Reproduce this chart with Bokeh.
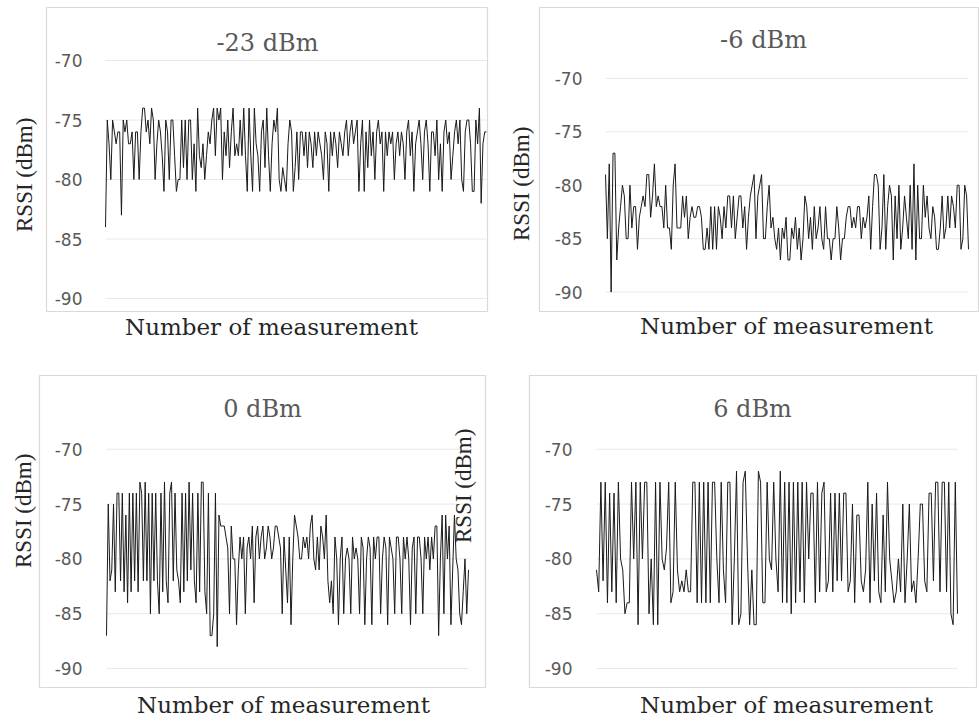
from bokeh.plotting import figure
from bokeh.models import Range1d, FixedTicker, ColumnDataSource, Title
from bokeh.layouts import row, column
from bokeh.embed import file_html
from bokeh.resources import INLINE
from bokeh.core.properties import value

titles = ["-23 dBm", "-6 dBm", "0 dBm", "6 dBm"]
y_ticks = [-90, -85, -80, -75, -70]
y_label = "RSSI (dBm)"
x_label = "Number of measurement"

rssi_m23 = [
    -84, -75, -77, -80, -75, -76, -77, -76, -76, -83, -75, -76, -75, -77, -77, -76, -80, -76, -76, -80,
    -76, -74, -74, -76, -75, -77, -74, -75, -80, -77, -75, -76, -78, -81, -75, -76, -80, -75, -75, -78,
    -81, -80, -80, -75, -79, -75, -80, -75, -75, -80, -77, -81, -74, -78, -79, -77, -80, -78, -76, -77,
    -75, -74, -78, -74, -75, -74, -80, -76, -78, -75, -79, -76, -74, -78, -77, -78, -75, -78, -74, -78,
    -81, -74, -78, -81, -74, -77, -78, -81, -76, -75, -79, -74, -78, -81, -77, -75, -76, -74, -80, -81,
    -79, -80, -81, -77, -75, -76, -81, -79, -76, -80, -76, -76, -78, -76, -79, -76, -77, -79, -76, -78,
    -76, -77, -78, -80, -76, -77, -81, -76, -78, -76, -77, -79, -76, -77, -78, -76, -75, -78, -76, -75,
    -77, -76, -75, -81, -77, -75, -81, -76, -79, -75, -78, -76, -80, -76, -75, -77, -76, -81, -76, -78,
    -76, -77, -76, -80, -77, -76, -78, -76, -77, -80, -76, -75, -78, -76, -81, -77, -76, -75, -77, -80,
    -76, -75, -77, -81, -76, -76, -78, -75, -80, -77, -81, -76, -75, -77, -76, -80, -78, -76, -75, -77,
    -75, -80, -81, -76, -75, -75, -77, -81, -81, -75, -77, -74, -82, -77, -76, -76,
]

rssi_m6 = [
    -79, -85, -78, -90, -77, -77, -87, -84, -82, -80, -81, -85, -85, -80, -84, -82, -82, -86, -83, -82,
    -81, -82, -79, -79, -83, -81, -78, -82, -81, -82, -82, -84, -80, -84, -84, -86, -80, -78, -84, -84,
    -84, -81, -83, -81, -85, -83, -82, -83, -83, -82, -82, -83, -86, -86, -84, -86, -82, -86, -82, -86,
    -82, -83, -85, -82, -84, -81, -81, -84, -81, -85, -83, -81, -81, -84, -82, -86, -83, -81, -80, -79,
    -85, -81, -80, -79, -85, -85, -82, -80, -84, -83, -85, -86, -84, -87, -84, -85, -83, -87, -87, -84,
    -85, -83, -86, -84, -87, -85, -81, -82, -85, -83, -86, -82, -85, -84, -82, -85, -86, -82, -85, -85,
    -87, -85, -85, -82, -84, -87, -85, -85, -83, -82, -82, -84, -83, -84, -82, -82, -85, -83, -84, -83,
    -81, -86, -82, -79, -79, -80, -86, -84, -79, -86, -82, -80, -81, -87, -81, -85, -80, -86, -84, -81,
    -83, -85, -80, -86, -78, -87, -80, -85, -85, -80, -83, -81, -84, -85, -82, -83, -86, -86, -84, -81,
    -85, -84, -81, -84, -81, -82, -84, -80, -80, -86, -85, -80, -81, -86,
]

rssi_0 = [
    -87, -75, -82, -81, -75, -83, -74, -74, -82, -74, -83, -76, -84, -74, -83, -74, -82, -74, -83, -73,
    -74, -82, -73, -82, -74, -85, -74, -82, -74, -82, -85, -74, -83, -73, -82, -84, -74, -73, -82, -74,
    -81, -82, -84, -74, -83, -74, -82, -73, -81, -74, -82, -84, -74, -83, -73, -73, -83, -85, -74, -87,
    -87, -85, -74, -88, -76, -77, -77, -77, -78, -79, -85, -77, -80, -80, -86, -81, -78, -80, -78, -85,
    -79, -78, -80, -77, -84, -78, -77, -80, -78, -77, -80, -79, -77, -78, -80, -79, -77, -77, -78, -79,
    -85, -78, -81, -84, -78, -86, -80, -76, -77, -78, -80, -80, -78, -79, -78, -80, -77, -76, -80, -81,
    -78, -81, -77, -78, -80, -76, -82, -84, -82, -85, -78, -80, -86, -80, -78, -85, -80, -79, -80, -85,
    -78, -80, -79, -80, -85, -78, -79, -86, -80, -78, -79, -86, -78, -80, -78, -78, -85, -80, -78, -79,
    -86, -78, -79, -80, -85, -78, -78, -80, -85, -78, -80, -78, -80, -86, -79, -78, -85, -78, -78, -80,
    -85, -78, -80, -78, -81, -78, -80, -77, -77, -87, -80, -76, -85, -76, -80, -77, -86, -81, -76, -80,
    -81, -85, -86, -83, -80, -85, -81,
]

rssi_6 = [
    -81, -83, -73, -82, -73, -84, -74, -83, -74, -84, -73, -80, -81, -85, -84, -84, -73, -80, -73, -86,
    -73, -80, -73, -73, -85, -80, -86, -73, -86, -73, -80, -81, -79, -73, -84, -83, -73, -81, -83, -82,
    -83, -81, -83, -83, -73, -73, -84, -73, -84, -73, -84, -73, -84, -73, -73, -80, -84, -73, -81, -84,
    -73, -73, -86, -80, -72, -86, -85, -73, -72, -80, -86, -81, -86, -86, -72, -73, -84, -84, -73, -80,
    -81, -73, -80, -83, -72, -84, -73, -84, -73, -85, -73, -84, -73, -83, -73, -84, -73, -80, -74, -74,
    -84, -73, -83, -74, -73, -83, -82, -74, -83, -74, -82, -74, -82, -74, -74, -83, -82, -75, -84, -76,
    -76, -82, -83, -81, -73, -84, -75, -82, -74, -83, -84, -76, -83, -73, -80, -82, -84, -83, -80, -83,
    -75, -84, -80, -75, -83, -82, -84, -80, -75, -75, -82, -83, -74, -74, -82, -73, -73, -83, -73, -73,
    -83, -73, -85, -86, -73, -85,
]

series = [rssi_m23, rssi_m6, rssi_0, rssi_6]

GRID = "#e8e8e8"
BOX = "#d9d9d9"
TICK_TXT = "#595959"
TITLE_TXT = "#595959"
AXT_TXT = "#262626"

YT_SIZE, YT_H, YT_L = 23, 27, 113      # y title font px, est. text height, est. length
XT_SIZE, XT_H, XT_L = 23, 27, 291      # x title font px, est. text height, est. length


def make_panel(idx, ox, oy, w, h, box, data_lr, y70, y90, tick_right,
               title_c, ytitle_c, xtitle_c, margin=None, transparent=False):
    ys = series[idx]
    n = len(ys)
    bl, bt, br, bb = box
    br = min(br, ox + w)
    dl, dr = data_lr
    ppi = (dr - dl) / (n - 1)
    ppd = (y90 - y70) / (y_ticks[-1] - y_ticks[0])

    def xd(px):
        return (px - dl) / ppi

    def yd(py):
        return y_ticks[-1] - (py - y70) / ppd

    kw = {}
    if margin is not None:
        kw["margin"] = margin
    p = figure(width=w, height=h, output_backend="svg", toolbar_location=None,
               x_range=Range1d(xd(bl), xd(br)), y_range=Range1d(yd(bb), yd(bt)),
               x_axis_location=None, y_axis_location="left",
               min_border_left=bl - ox, min_border_right=ox + w - br,
               min_border_top=bt - oy, min_border_bottom=oy + h - bb, **kw)
    p.title = None
    p.outline_line_color = BOX
    p.outline_line_width = 1.2
    if transparent:
        p.border_fill_color = None
    p.xgrid.grid_line_color = None
    p.ygrid.grid_line_color = None

    # tick labels (inside the bordered box)
    ax = p.yaxis[0]
    ax.ticker = FixedTicker(ticks=y_ticks)
    ax.fixed_location = xd(tick_right)
    ax.axis_line_color = None
    ax.major_tick_line_color = None
    ax.minor_tick_line_color = None
    ax.major_tick_out = 0
    ax.major_tick_in = 0
    ax.major_label_standoff = 0
    ax.major_label_overrides = {t: str(t) for t in y_ticks}
    ax.major_label_text_font = "DejaVu Sans"
    ax.major_label_text_font_size = "17px"
    ax.major_label_text_color = TICK_TXT

    # y axis title (left of the box)
    ys_off = (bl - ox) - YT_H
    ystand = max(0, min(2 * (bl - ytitle_c[0] - YT_H / 2), ys_off))
    p.add_layout(Title(text=y_label, align="left", vertical_align="bottom",
                       offset=bb - ytitle_c[1] - YT_L / 2, standoff=ystand,
                       text_font="Liberation Serif", text_font_size=f"{YT_SIZE}px",
                       text_font_style="normal", text_color=AXT_TXT), "left")

    # x axis title (below the box)
    xs_off = (oy + h - bb) - XT_H
    xstand = max(0, min(2 * (xtitle_c[1] - XT_H / 2 - bb), xs_off))
    p.add_layout(Title(text=x_label, align="left", vertical_align="top",
                       offset=xtitle_c[0] - XT_L / 2 - bl, standoff=xstand,
                       text_font="DejaVu Serif", text_font_size=f"{XT_SIZE}px",
                       text_font_style="normal", text_color=AXT_TXT), "below")

    # horizontal gridlines across the data span
    k = len(y_ticks)
    p.segment(x0=[0] * k, x1=[n - 1] * k, y0=y_ticks, y1=y_ticks,
              line_color=GRID, line_width=1)

    # series
    src = ColumnDataSource(dict(n=list(range(n)), rssi=ys))
    p.line("n", "rssi", source=src, line_color="#1a1a1a", line_width=1)

    # panel title (inside the box)
    p.text(x=[xd(title_c[0])], y=[yd(title_c[1])], text=[titles[idx]],
           text_align="center", text_baseline="middle",
           text_font=value("DejaVu Serif"), text_font_size="24px", text_color=TITLE_TXT)
    return p


p1 = make_panel(0, 0, 0, 500, 355, (46, 7, 487, 311), (105, 486), 60, 298, 82,
                (267, 42), (22, 175), (270, 327))
p2 = make_panel(1, 500, 0, 479, 355, (539, 4, 990, 317), (605, 968), 77, 297, 582,
                (763, 37), (518, 190), (785, 332))
p3 = make_panel(2, 0, 355, 495, 368, (39, 375, 485, 688), (106, 468), 449, 669, 82,
                (262, 409), (22, 512), (282, 707))
p4 = make_panel(3, 395, 355, 584, 368, (529, 375, 976, 688), (596, 957), 449, 669, 572,
                (752, 409), (462, 487), (785, 707), margin=(0, 0, 0, -100), transparent=True)

layout = column(row(p1, p2), row(p3, p4))
open("out.html", "w").write(file_html(layout, INLINE))
